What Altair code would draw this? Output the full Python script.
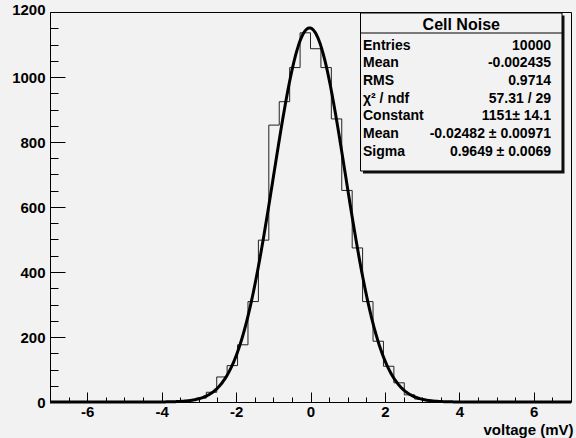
import altair as alt
import pandas as pd
import numpy as np

# ---------------- data ----------------
x_lo, x_hi = -7.0, 7.0
n_bins = 50
bin_width = (x_hi - x_lo) / n_bins
counts = [0] * 11 + [1, 2, 5, 12, 30, 77, 112, 176, 309, 498, 852, 924, 1029, 1136,
                     1087, 1029, 871, 651, 474, 309, 187, 110, 59, 22, 9, 4, 1] + [0] * 12
centers = [x_lo + bin_width * (k + 0.5) for k in range(n_bins)]

fit_constant = 1151.0
fit_mean = -0.02482
fit_sigma = 0.9649

stats_title = "Cell Noise"
stat_labels = ["Entries", "Mean", "RMS", "χ² / ndf", "Constant", "Mean", "Sigma"]
stat_values = ["10000", "-0.002435", "0.9714", "57.31 / 29", "1151± 14.1",
               "-0.02482 ± 0.00971", "0.9649 ± 0.0069"]

x_major = [-6, -4, -2, 0, 2, 4, 6]
x_minor = [v / 2 for v in range(-13, 14) if v % 4 != 0]
y_major = [0, 200, 400, 600, 800, 1000, 1200]
y_minor = [v for v in range(50, 1200, 50) if v % 200 != 0]
y_max = 1200

# ---------------- layout ----------------
W, H = 521, 390
PAD_L, PAD_T = 50, 12
FONT = "Liberation Sans"
BG = "#f2f2f2"

hist_df = pd.DataFrame({"x": centers, "count": counts})
stats_df = pd.DataFrame({"label": stat_labels, "value": stat_values, "i": list(range(len(stat_labels)))})
one = pd.DataFrame({"a": [0]})

xscale = alt.Scale(domain=[x_lo, x_hi], nice=False, zero=False)
yscale = alt.Scale(domain=[0, y_max], nice=False, zero=False)

hist = alt.Chart(hist_df).mark_line(interpolate="step", color="#222222", strokeWidth=1).encode(
    x=alt.X("x:Q", scale=xscale,
            axis=alt.Axis(orient="bottom", values=x_major, ticks=False, domain=False, grid=False,
                          labelFont=FONT, labelFontSize=15, labelFontWeight="bold", labelColor="black",
                          labelPadding=2, labelExpr="toString(datum.value)",
                          title="voltage (mV)", titleFont=FONT, titleFontSize=15, titleFontWeight="bold",
                          titleColor="black", titleX=W + 2, titleY=27, titleAlign="right",
                          titleBaseline="middle")),
    y=alt.Y("count:Q", scale=yscale,
            axis=alt.Axis(orient="left", values=y_major, ticks=False, domain=False, grid=False,
                          labelFont=FONT, labelFontSize=15, labelFontWeight="bold", labelColor="black",
                          labelPadding=5, labelExpr="toString(datum.value)", title="",
                          labelOffset=alt.condition("datum.value == 1200", alt.value(-3), alt.value(0)))),
)

fit = alt.Chart(alt.sequence(x_lo, x_hi + 0.001, 0.02, as_="v")).transform_calculate(
    f=f"{fit_constant} * exp(-0.5 * pow((datum.v - ({fit_mean})) / {fit_sigma}, 2))"
).mark_line(color="black", strokeWidth=3).encode(
    x=alt.X("v:Q", scale=xscale, axis=None),
    y=alt.Y("f:Q", scale=yscale, axis=None),
)


def xticks(values, size):
    return alt.Chart(hist_df).mark_point(opacity=0).encode(
        x=alt.X("x:Q", scale=xscale,
                axis=alt.Axis(orient="top", offset=-H, values=values, labels=False, domain=False,
                              grid=False, tickSize=size, tickColor="black", tickWidth=1, title="")),
        y=alt.Y("count:Q", scale=yscale, axis=None),
    )


def yticks(values, size):
    return alt.Chart(hist_df).mark_point(opacity=0).encode(
        x=alt.X("x:Q", scale=xscale, axis=None),
        y=alt.Y("count:Q", scale=yscale,
                axis=alt.Axis(orient="right", offset=-W, values=values, labels=False, domain=False,
                              grid=False, tickSize=size, tickColor="black", tickWidth=1, title="")),
    )


# stats box (pixel positions inside the plot area)
bx1, bx2, by1, by2 = 310.5, 512, 1, 159
shadow = alt.Chart(one).mark_rect(color="#111111").encode(
    x=alt.value(bx1 + 2.5), x2=alt.value(bx2 + 2.5), y=alt.value(by1 + 2.5), y2=alt.value(by2 + 2.5))
box = alt.Chart(one).mark_rect(fill=BG, stroke="black", strokeWidth=1).encode(
    x=alt.value(bx1), x2=alt.value(bx2), y=alt.value(by1), y2=alt.value(by2))
divider = alt.Chart(one).mark_rule(color="black", strokeWidth=1).encode(
    x=alt.value(bx1), x2=alt.value(bx2), y=alt.value(21))
title_txt = alt.Chart(one).mark_text(font=FONT, fontSize=16, fontWeight="bold", color="black",
                                     align="center", baseline="middle").encode(
    x=alt.value((bx1 + bx2) / 2), y=alt.value(12.5), text=alt.value(stats_title))
lab_txt = alt.Chart(stats_df).transform_calculate(py="33.5 + 17.7 * datum.i").mark_text(
    font=FONT, fontSize=14, fontWeight="bold", color="black", align="left", baseline="middle").encode(
    x=alt.value(bx1 + 2.5), y=alt.Y("py:Q", scale=None), text="label:N")
val_txt = alt.Chart(stats_df).transform_calculate(py="33.5 + 17.7 * datum.i").mark_text(
    font=FONT, fontSize=14, fontWeight="bold", color="black", align="right", baseline="middle").encode(
    x=alt.value(bx2 - 11), y=alt.Y("py:Q", scale=None), text="value:N")

chart = alt.layer(
    hist, xticks(x_major, 10), xticks(x_minor, 5), yticks(y_major, 15), yticks(y_minor, 8), fit,
    shadow, box, divider, title_txt, lab_txt, val_txt,
).resolve_axis(x="independent", y="independent").properties(
    width=W, height=H,
    autosize=alt.AutoSizeParams(type="none"),
    padding={"left": PAD_L, "top": PAD_T, "right": 576 - PAD_L - W, "bottom": 438 - PAD_T - H},
    background=BG,
).configure_view(stroke="black", strokeWidth=1, fill=BG)

chart.save("out.html", embed_options={"renderer": "svg", "actions": False})
